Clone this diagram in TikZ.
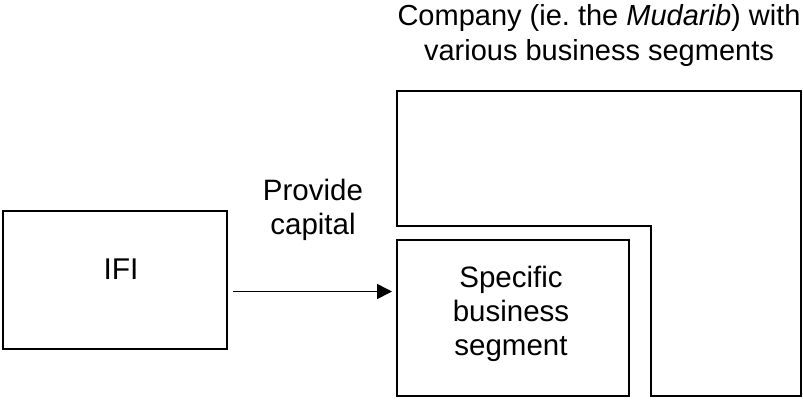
\documentclass[tikz,border=0pt]{standalone}
\usepackage{fontspec}
\setmainfont{Liberation Sans}
\usetikzlibrary{arrows.meta}
\begin{document}
\begin{tikzpicture}[x=1pt,y=-1pt,
  box/.style={draw,line width=1.8pt},
  lbl/.style={align=center,font=\fontsize{29.5}{34}\selectfont,inner sep=0pt},
  arr/.style={line width=1.7pt,-{Triangle[length=15pt,width=15pt]}}]
\useasboundingbox (0,0) rectangle (803,400);
\node[box,minimum width=224pt,minimum height=138pt,inner sep=0pt] (ifibox) at (115,280) {};
\node[inner sep=0pt,font=\fontsize{30}{36}\selectfont] (ifi) at (121,269) {IFI};
\draw[box] (397,91) -- (801,91) -- (801,396) -- (651,396) -- (651,226) -- (397,226) -- cycle;
\node[box,minimum width=232pt,minimum height=156pt,inner sep=0pt] (seg) at (513,318) {};
\node[lbl] (segtxt) at (511,314) {Specific\\business\\segment};
\coordinate (start) at (233,291.5);
\coordinate (end) at (392,291.5);
\draw[arr] (start) -- (end);
\node[lbl] (prov) at (313,210) {Provide\\capital};
\node[lbl,font=\fontsize{29}{35}\selectfont] (comp) at (599,35) {Company (ie.\ the \textit{Mudarib}) with\\various business segments};
\end{tikzpicture}
\end{document}
